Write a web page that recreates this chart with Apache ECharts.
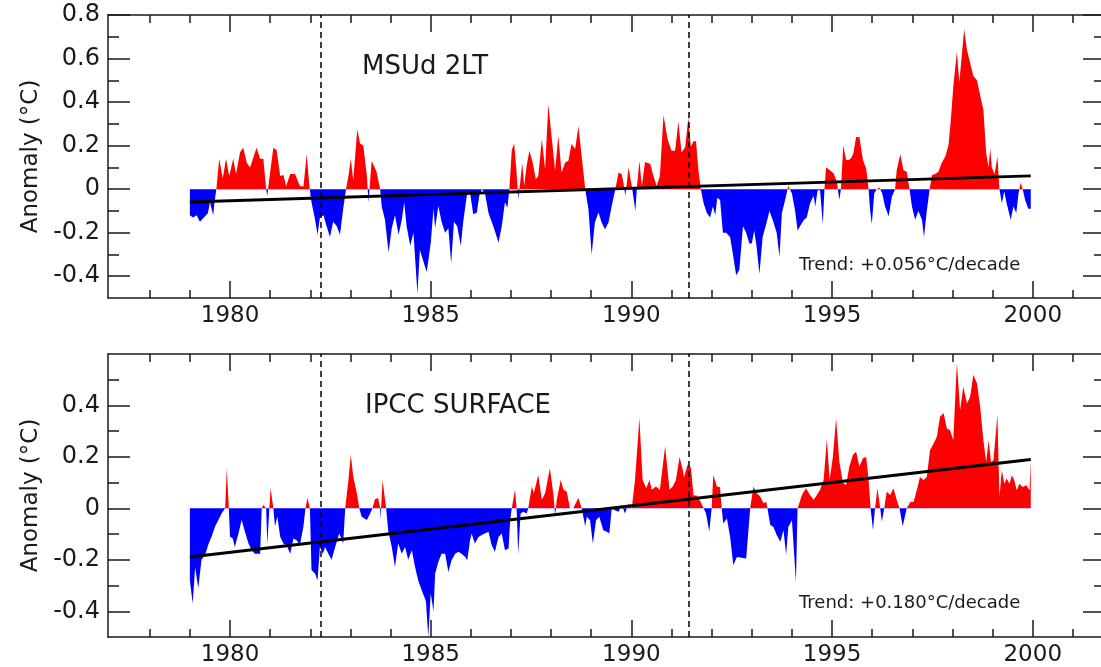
<!DOCTYPE html>
<html lang="en">
<head>
<meta charset="UTF-8">
<title>MSUd 2LT / IPCC surface anomalies</title>
<script src="https://cdn.jsdelivr.net/npm/echarts@6/dist/echarts.min.js"></script>
<style>
    html, body { margin: 0; padding: 0; overflow: hidden; background: #fff; }
    #main { width: 1110px; height: 667px; }
</style>
</head>
<body>
<div id="main"></div>
<script>
    // 月距平值 [year, degC]
    var msu2lt = [
        [1979.00,-0.12],[1979.08,-0.13],[1979.17,-0.12],[1979.25,-0.15],[1979.35,-0.13],[1979.45,-0.11],
        [1979.50,-0.06],[1979.58,-0.12],[1979.62,-0.05],[1979.66,0.00],[1979.73,0.14],[1979.82,0.05],
        [1979.90,0.14],[1979.98,0.06],[1980.08,0.14],[1980.15,0.07],[1980.25,0.17],[1980.33,0.19],
        [1980.42,0.12],[1980.50,0.10],[1980.66,0.19],[1980.75,0.14],[1980.83,0.14],[1980.90,0.00],
        [1980.93,-0.03],[1980.98,0.05],[1981.08,0.19],[1981.16,0.18],[1981.25,0.06],[1981.33,0.065],
        [1981.40,0.015],[1981.50,0.07],[1981.62,0.07],[1981.74,0.015],[1981.83,0.012],[1981.91,0.16],
        [1981.98,0.01],[1982.03,-0.06],[1982.12,-0.14],[1982.18,-0.21],[1982.24,-0.13],[1982.33,-0.12],
        [1982.39,-0.16],[1982.49,-0.22],[1982.57,-0.15],[1982.66,-0.17],[1982.74,-0.21],[1982.82,-0.09],
        [1982.89,0.00],[1982.95,0.06],[1983.01,0.14],[1983.07,0.04],[1983.17,0.275],[1983.24,0.21],
        [1983.32,0.20],[1983.41,0.06],[1983.45,-0.06],[1983.53,0.13],[1983.65,0.08],[1983.74,0.00],
        [1983.78,-0.08],[1983.86,-0.14],[1983.95,-0.29],[1984.03,-0.18],[1984.11,-0.12],[1984.20,-0.21],
        [1984.28,-0.14],[1984.34,-0.06],[1984.40,-0.17],[1984.49,-0.26],[1984.57,-0.20],[1984.67,-0.48],
        [1984.73,-0.28],[1984.90,-0.38],[1985.00,-0.25],[1985.07,-0.09],[1985.11,-0.18],[1985.19,-0.077],
        [1985.27,-0.15],[1985.36,-0.20],[1985.44,-0.18],[1985.51,-0.34],[1985.58,-0.15],[1985.66,-0.17],
        [1985.75,-0.26],[1985.81,-0.15],[1985.90,-0.03],[1985.98,-0.015],[1986.06,-0.115],[1986.15,-0.107],
        [1986.21,-0.03],[1986.27,0.00],[1986.35,-0.015],[1986.44,-0.11],[1986.56,-0.17],[1986.69,-0.245],
        [1986.77,-0.17],[1986.85,-0.06],[1986.91,-0.085],[1986.96,0.00],[1987.02,0.18],[1987.08,0.21],
        [1987.14,0.077],[1987.18,-0.045],[1987.23,0.03],[1987.28,0.12],[1987.33,0.015],[1987.39,0.107],
        [1987.46,0.176],[1987.54,0.123],[1987.62,0.046],[1987.68,0.06],[1987.77,0.23],[1987.85,0.092],
        [1987.93,0.39],[1988.01,0.245],[1988.10,0.084],[1988.18,0.245],[1988.26,0.077],[1988.35,0.123],
        [1988.43,0.13],[1988.51,0.207],[1988.60,0.184],[1988.68,0.29],[1988.76,0.153],[1988.85,0.00],
        [1988.93,-0.092],[1989.01,-0.30],[1989.09,-0.153],[1989.18,-0.107],[1989.26,-0.153],[1989.34,-0.184],
        [1989.43,-0.153],[1989.51,-0.077],[1989.60,0.00],[1989.68,0.077],[1989.76,0.069],[1989.80,0.03],
        [1989.85,-0.03],[1989.93,0.10],[1990.01,0.015],[1990.10,-0.10],[1990.14,0.015],[1990.20,0.13],
        [1990.26,0.015],[1990.34,0.125],[1990.47,0.115],[1990.55,0.06],[1990.63,0.015],[1990.71,0.06],
        [1990.80,0.34],[1990.90,0.23],[1991.00,0.176],[1991.09,0.176],[1991.17,0.31],[1991.25,0.168],
        [1991.34,0.192],[1991.42,0.33],[1991.48,0.195],[1991.55,0.22],[1991.61,0.22],[1991.67,0.087],
        [1991.73,0.00],[1991.80,-0.065],[1991.88,-0.11],[1991.96,-0.13],[1992.03,-0.08],[1992.09,-0.12],
        [1992.14,-0.04],[1992.21,-0.05],[1992.28,-0.20],[1992.36,-0.20],[1992.46,-0.22],[1992.54,-0.31],
        [1992.61,-0.395],[1992.69,-0.37],[1992.78,-0.17],[1992.86,-0.20],[1992.94,-0.25],[1993.00,-0.25],
        [1993.06,-0.19],[1993.12,-0.265],[1993.19,-0.39],[1993.27,-0.22],[1993.36,-0.16],[1993.44,-0.10],
        [1993.52,-0.14],[1993.62,-0.20],[1993.69,-0.31],[1993.75,-0.11],[1993.83,-0.05],[1993.91,0.015],
        [1994.00,-0.02],[1994.08,-0.10],[1994.14,-0.19],[1994.22,-0.165],[1994.30,-0.14],[1994.37,-0.13],
        [1994.45,-0.066],[1994.54,-0.03],[1994.58,-0.08],[1994.64,-0.005],[1994.70,-0.005],[1994.77,-0.16],
        [1994.81,0.00],[1994.85,0.10],[1994.94,0.088],[1995.04,0.072],[1995.12,0.034],[1995.18,-0.05],
        [1995.22,0.00],[1995.28,0.20],[1995.35,0.134],[1995.41,0.134],[1995.47,0.141],[1995.53,0.164],
        [1995.60,0.24],[1995.68,0.24],[1995.77,0.134],[1995.85,0.095],[1995.91,0.00],[1995.95,-0.10],
        [1995.99,-0.16],[1996.05,-0.02],[1996.11,0.00],[1996.18,0.008],[1996.25,-0.02],[1996.32,-0.08],
        [1996.41,-0.125],[1996.49,-0.035],[1996.57,0.00],[1996.61,0.087],[1996.70,0.16],[1996.78,0.087],
        [1996.86,0.08],[1996.93,0.00],[1996.99,-0.08],[1997.07,-0.14],[1997.15,-0.10],[1997.24,-0.14],
        [1997.29,-0.22],[1997.36,-0.10],[1997.43,0.00],[1997.49,0.065],[1997.57,0.07],[1997.65,0.08],
        [1997.73,0.12],[1997.82,0.15],[1997.90,0.20],[1997.96,0.32],[1998.02,0.47],[1998.11,0.63],
        [1998.17,0.49],[1998.23,0.61],[1998.29,0.735],[1998.36,0.64],[1998.44,0.58],[1998.52,0.52],
        [1998.61,0.50],[1998.69,0.43],[1998.77,0.365],[1998.84,0.165],[1998.90,0.10],[1998.94,0.19],
        [1998.98,0.10],[1999.05,0.07],[1999.12,0.15],[1999.17,0.00],[1999.23,-0.065],[1999.29,-0.01],
        [1999.35,-0.065],[1999.45,-0.14],[1999.52,-0.08],[1999.59,-0.11],[1999.645,-0.02],[1999.70,0.03],
        [1999.75,0.00],[1999.81,-0.05],[1999.89,-0.09],[1999.95,-0.09]
    ];
    var ipccSurface = [
        [1979.00,-0.28],[1979.07,-0.37],[1979.13,-0.23],[1979.21,-0.31],[1979.29,-0.20],[1979.38,-0.18],
        [1979.46,-0.14],[1979.54,-0.11],[1979.63,-0.07],[1979.71,-0.045],[1979.79,-0.02],[1979.88,0.00],
        [1979.92,0.156],[1979.97,0.00],[1980.00,-0.11],[1980.07,-0.117],[1980.12,-0.15],[1980.21,-0.098],
        [1980.29,-0.045],[1980.37,-0.09],[1980.46,-0.137],[1980.54,-0.163],[1980.62,-0.176],[1980.75,-0.176],
        [1980.79,0.00],[1980.83,0.013],[1980.90,0.00],[1980.93,-0.14],[1980.98,0.00],[1981.01,0.078],
        [1981.08,0.00],[1981.12,-0.07],[1981.18,-0.033],[1981.25,-0.11],[1981.33,-0.137],[1981.41,-0.143],
        [1981.50,-0.176],[1981.58,-0.117],[1981.66,-0.124],[1981.74,-0.143],[1981.83,-0.07],[1981.88,0.00],
        [1981.93,0.04],[1981.99,0.00],[1982.03,-0.24],[1982.12,-0.254],[1982.18,-0.28],[1982.24,-0.15],
        [1982.31,-0.176],[1982.37,-0.15],[1982.45,-0.176],[1982.53,-0.20],[1982.62,-0.15],[1982.72,-0.098],
        [1982.82,-0.137],[1982.87,0.00],[1982.95,0.11],[1983.01,0.208],[1983.07,0.124],[1983.16,0.059],
        [1983.22,0.00],[1983.28,-0.033],[1983.41,-0.045],[1983.49,-0.02],[1983.55,0.00],[1983.61,0.035],
        [1983.69,0.04],[1983.74,0.00],[1983.75,-0.045],[1983.80,0.11],[1983.89,0.00],[1983.94,-0.085],
        [1984.03,-0.15],[1984.11,-0.228],[1984.19,-0.137],[1984.28,-0.176],[1984.36,-0.15],[1984.44,-0.20],
        [1984.53,-0.163],[1984.61,-0.228],[1984.69,-0.28],[1984.78,-0.32],[1984.88,-0.36],[1984.94,-0.50],
        [1985.00,-0.33],[1985.07,-0.40],[1985.11,-0.254],[1985.19,-0.208],[1985.27,-0.176],[1985.36,-0.176],
        [1985.44,-0.247],[1985.52,-0.202],[1985.61,-0.176],[1985.69,-0.169],[1985.77,-0.176],[1985.86,-0.189],
        [1985.91,-0.202],[1985.98,-0.124],[1986.02,-0.098],[1986.10,-0.137],[1986.19,-0.111],[1986.27,-0.104],
        [1986.35,-0.098],[1986.44,-0.091],[1986.52,-0.143],[1986.60,-0.169],[1986.69,-0.111],[1986.77,-0.098],
        [1986.85,-0.163],[1986.94,-0.156],[1986.98,-0.046],[1987.02,0.00],[1987.10,0.072],[1987.14,0.00],
        [1987.18,-0.176],[1987.24,-0.02],[1987.31,-0.013],[1987.39,-0.02],[1987.43,0.00],[1987.52,0.085],
        [1987.57,0.059],[1987.68,0.13],[1987.77,0.033],[1987.85,0.059],[1987.97,0.156],[1988.06,0.052],
        [1988.10,-0.03],[1988.14,0.033],[1988.24,0.11],[1988.31,0.072],[1988.39,0.065],[1988.47,0.00],
        [1988.55,0.00],[1988.68,0.04],[1988.76,0.00],[1988.85,-0.07],[1988.89,-0.033],[1988.97,-0.046],
        [1989.04,-0.137],[1989.12,-0.046],[1989.20,-0.033],[1989.30,-0.085],[1989.39,-0.091],[1989.45,-0.098],
        [1989.51,0.00],[1989.59,-0.007],[1989.68,-0.013],[1989.76,0.013],[1989.84,-0.02],[1989.93,0.02],
        [1990.01,0.00],[1990.09,0.11],[1990.20,0.35],[1990.28,0.11],[1990.37,0.078],[1990.45,0.11],
        [1990.51,0.072],[1990.61,0.085],[1990.71,0.072],[1990.84,0.241],[1990.95,0.072],[1991.03,0.085],
        [1991.11,0.11],[1991.20,0.20],[1991.28,0.15],[1991.31,0.12],[1991.40,0.17],[1991.48,0.16],
        [1991.55,0.05],[1991.63,0.05],[1991.71,0.03],[1991.80,0.00],[1991.86,-0.02],[1991.94,-0.09],
        [1992.00,0.00],[1992.04,0.13],[1992.13,0.085],[1992.21,0.082],[1992.25,0.00],[1992.29,-0.059],
        [1992.38,-0.039],[1992.46,-0.111],[1992.54,-0.22],[1992.63,-0.189],[1992.75,-0.192],[1992.86,-0.195],
        [1992.96,0.00],[1993.04,0.085],[1993.12,0.059],[1993.21,0.046],[1993.29,0.02],[1993.36,0.026],
        [1993.39,0.00],[1993.46,-0.065],[1993.54,-0.072],[1993.62,-0.104],[1993.71,-0.13],[1993.79,-0.085],
        [1993.855,-0.18],[1993.91,-0.072],[1994.00,-0.046],[1994.10,-0.286],[1994.14,0.00],[1994.25,0.052],
        [1994.35,0.078],[1994.45,0.052],[1994.54,0.033],[1994.62,0.052],[1994.70,0.072],[1994.79,0.11],
        [1994.87,0.27],[1994.94,0.11],[1995.02,0.20],[1995.10,0.35],[1995.18,0.182],[1995.27,0.10],
        [1995.35,0.091],[1995.43,0.163],[1995.52,0.208],[1995.60,0.22],[1995.68,0.163],[1995.77,0.195],
        [1995.85,0.20],[1995.91,0.11],[1995.96,0.00],[1996.02,-0.085],[1996.07,0.00],[1996.13,0.078],
        [1996.20,0.00],[1996.24,-0.052],[1996.30,0.00],[1996.36,0.065],[1996.45,0.052],[1996.53,0.078],
        [1996.61,0.033],[1996.68,0.00],[1996.76,-0.07],[1996.86,0.00],[1996.95,0.025],[1997.03,0.025],
        [1997.11,0.07],[1997.19,0.122],[1997.28,0.11],[1997.36,0.122],[1997.44,0.226],[1997.53,0.252],
        [1997.61,0.278],[1997.69,0.356],[1997.78,0.37],[1997.86,0.31],[1997.94,0.304],[1998.02,0.265],
        [1998.11,0.565],[1998.19,0.382],[1998.27,0.473],[1998.36,0.408],[1998.44,0.434],[1998.52,0.519],
        [1998.61,0.486],[1998.69,0.395],[1998.77,0.265],[1998.84,0.18],[1998.90,0.265],[1998.96,0.18],
        [1999.02,0.187],[1999.12,0.363],[1999.17,0.044],[1999.23,0.148],[1999.29,0.096],[1999.35,0.116],
        [1999.42,0.096],[1999.48,0.129],[1999.54,0.109],[1999.60,0.07],[1999.67,0.096],[1999.75,0.083],
        [1999.84,0.09],[1999.92,0.07],[1999.95,0.19]
    ];
    // 线性趋势的两个端点
    var msuTrend = [[1979.0, -0.059], [1999.95, 0.061]];
    var sfcTrend = [[1979.0, -0.189], [1999.95, 0.19]];
    // 火山喷发 (El Chichon, Pinatubo)
    var eruptions = [1982.26, 1991.44];

    var majorYears = [1980, 1985, 1990, 1995, 2000];
    var minorYears = [1978, 1979, 1981, 1982, 1983, 1984, 1986, 1987, 1988, 1989,
                      1991, 1992, 1993, 1994, 1996, 1997, 1998, 1999, 2001];
    var msuTicks = [-0.4, -0.2, 0, 0.2, 0.4, 0.6, 0.8];
    var msuMinor = [-0.3, -0.1, 0.1, 0.3, 0.5, 0.7];
    var sfcTicks = [-0.4, -0.2, 0, 0.2, 0.4];
    var sfcMinor = [-0.3, -0.1, 0.1, 0.3, 0.5];

    var xMin = 1976.96, xMax = 2001.8;
    var font = 'DejaVu Sans';
    var ink = '#1a1a1a';

    var panels = [
        { data: msu2lt, trend: msuTrend, yMin: -0.5, yMax: 0.8, ticks: msuTicks, minor: msuMinor, top: 15 },
        { data: ipccSurface, trend: sfcTrend, yMin: -0.5, yMax: 0.6, ticks: sfcTicks, minor: sfcMinor, top: 354 }
    ];

    function fmt(v) { return String(Math.round(v * 10) / 10); }

    function xAxis(g, pos, ticks, len, showLine, showLabel) {
        return {
            type: 'value', gridIndex: g, position: pos, min: xMin, max: xMax,
            axisLine: { show: showLine, onZero: false, lineStyle: { color: ink, width: 1.5 } },
            axisTick: { show: true, inside: true, length: len, customValues: ticks, lineStyle: { color: ink, width: 1.5 } },
            axisLabel: showLabel
                ? { show: true, customValues: majorYears, margin: 7, fontSize: 23, fontFamily: font, color: ink,
                    formatter: function (v) { return String(v); } }
                : { show: false },
            splitLine: { show: false }
        };
    }

    function yAxis(g, p, pos, ticks, len, showLine, showLabel) {
        var ax = {
            type: 'value', gridIndex: g, position: pos, min: p.yMin, max: p.yMax,
            axisLine: { show: showLine, onZero: false, lineStyle: { color: ink, width: 1.5 } },
            axisTick: { show: true, inside: true, length: len, customValues: ticks, lineStyle: { color: ink, width: 1.5 } },
            axisLabel: showLabel
                ? { show: true, customValues: p.ticks, margin: 8, fontSize: 24, fontFamily: font, color: ink, formatter: fmt }
                : { show: false },
            splitLine: { show: false }
        };
        if (showLabel) {
            ax.name = 'Anomaly (°C)';
            ax.nameLocation = 'middle';
            ax.nameGap = 58;
            ax.nameTextStyle = { fontFamily: font, fontSize: 23, color: ink };
        }
        return ax;
    }

    var grids = [], xAxes = [], yAxes = [], series = [], visualMaps = [];
    panels.forEach(function (p, g) {
        grids.push({ left: 108, right: 5, top: p.top, height: 283 });
        xAxes.push(xAxis(g, 'bottom', majorYears, 17, true, true));
        xAxes.push(xAxis(g, 'bottom', minorYears, 8, false, false));
        xAxes.push(xAxis(g, 'top', majorYears, 17, true, false));
        xAxes.push(xAxis(g, 'top', minorYears, 8, false, false));
        yAxes.push(yAxis(g, p, 'left', p.ticks, 22, true, true));
        yAxes.push(yAxis(g, p, 'left', p.minor, 11, false, false));
        yAxes.push(yAxis(g, p, 'right', p.ticks, 22, true, false));
        yAxes.push(yAxis(g, p, 'right', p.minor, 11, false, false));

        // 距平面积，正值红负值蓝
        visualMaps.push({
            type: 'piecewise', show: false, seriesIndex: series.length, dimension: 1,
            pieces: [{ gte: -5, lt: 0, color: '#0000ff' }, { gte: 0, lte: 5, color: '#ff0000' }]
        });
        series.push({
            type: 'line', xAxisIndex: g * 4, yAxisIndex: g * 4, data: p.data,
            symbol: 'none', lineStyle: { width: 0 }, areaStyle: { opacity: 1 }, z: 2, silent: true
        });
        // 趋势线 + 火山喷发虚线
        series.push({
            type: 'line', xAxisIndex: g * 4, yAxisIndex: g * 4, data: p.trend,
            symbol: 'none', lineStyle: { color: '#000', width: 3 }, z: 4, silent: true,
            markLine: {
                silent: true, symbol: ['none', 'none'], label: { show: false },
                lineStyle: { color: '#000', type: [6, 4], width: 1.5 },
                data: eruptions.map(function (x) { return { xAxis: x }; })
            }
        });
    });

    var myChart = echarts.init(document.getElementById('main'));
    var option = {
        animation: false,
        backgroundColor: '#fff',
        title: [
            { text: 'MSUd 2LT', left: 362, top: 54, padding: 0,
              textStyle: { fontFamily: font, fontSize: 26, fontWeight: 'normal', color: ink } },
            { text: 'IPCC SURFACE', left: 365, top: 393, padding: 0,
              textStyle: { fontFamily: font, fontSize: 26, fontWeight: 'normal', color: ink } },
            { text: 'Trend: +0.056°C/decade', left: 799, top: 256, padding: 0,
              textStyle: { fontFamily: font, fontSize: 18, fontWeight: 'normal', color: ink } },
            { text: 'Trend: +0.180°C/decade', left: 799, top: 594, padding: 0,
              textStyle: { fontFamily: font, fontSize: 18, fontWeight: 'normal', color: ink } }
        ],
        grid: grids,
        xAxis: xAxes,
        yAxis: yAxes,
        visualMap: visualMaps,
        series: series
    };
    myChart.setOption(option);
</script>
</body>
</html>
